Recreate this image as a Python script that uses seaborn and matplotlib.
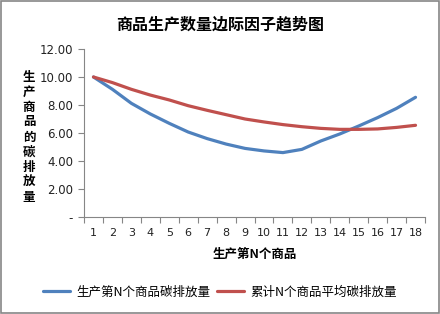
import matplotlib
matplotlib.use("Agg")
import matplotlib.pyplot as plt
import seaborn as sns
import pandas as pd
import numpy as np
from matplotlib.ticker import FixedLocator

n_items = list(range(1, 19))
marginal = [10.0, 9.12, 8.12, 7.36, 6.69, 6.07, 5.6, 5.21, 4.9, 4.72, 4.6, 4.83, 5.43, 5.93, 6.5, 7.1, 7.76, 8.55]
average = [10.0, 9.6, 9.12, 8.71, 8.36, 7.95, 7.62, 7.31, 7.0, 6.79, 6.6, 6.45, 6.33, 6.26, 6.26, 6.29, 6.4, 6.55]
series_names = ["生产第N个商品碳排放量", "累计N个商品平均碳排放量"]
y_ticks = [0, 2, 4, 6, 8, 10, 12]
y_tick_labels = ["-", "2.00", "4.00", "6.00", "8.00", "10.00", "12.00"]
title = "商品生产数量边际因子趋势图"
x_label = "生产第N个商品"
y_label = "生产商品的碳排放量"

sns.set_theme(style="white")
plt.rcParams['font.family'] = ['Noto Sans CJK SC', 'DejaVu Sans']

df = pd.DataFrame({
    "n": n_items * 2,
    "value": marginal + average,
    "series": [series_names[0]] * len(n_items) + [series_names[1]] * len(n_items),
})

fig = plt.figure(figsize=(4.4, 3.14), dpi=100)
ax = fig.add_axes([84 / 440, 1 - 217 / 314, (425 - 84) / 440, (217 - 49) / 314])

sns.lineplot(data=df, x="n", y="value", hue="series", palette=["#4F81BD", "#C0504D"],
             linewidth=2.3, ax=ax, legend=True)

ax.set_xlim(0.5, 18.5)
ax.set_ylim(0, 12)
ax.set_xticks(n_items)
ax.set_xticklabels([str(i) for i in n_items], fontsize=8, family=['DejaVu Sans'], color="#222222")
ax.xaxis.set_minor_locator(FixedLocator(np.arange(0.5, 19, 1)))
ax.tick_params(axis='x', which='major', length=0, pad=8)
ax.tick_params(axis='x', which='minor', length=4, width=0.8, color='#868686', bottom=True)
ax.set_yticks(y_ticks)
ax.set_yticklabels(y_tick_labels, fontsize=8.5, family=['DejaVu Sans'], color="#222222")
ax.tick_params(axis='y', which='major', length=4, width=0.8, color='#868686', left=True, pad=4)

for s in ["top", "right"]:
    ax.spines[s].set_visible(False)
for s in ["left", "bottom"]:
    ax.spines[s].set_color("#868686")
    ax.spines[s].set_linewidth(0.8)

ax.set_xlabel("")
ax.set_ylabel("")
fig.text(255 / 440, 1 - 254 / 314, x_label, ha="center", va="center", fontsize=9, fontweight="bold",
         color="black")
fig.text(29 / 440, 1 - 137 / 314, "\n".join(y_label), ha="center", va="center", fontsize=9,
         fontweight="bold", linespacing=1.2, color="black")
fig.text(220 / 440, 1 - 25 / 314, title, ha="center", va="center", fontsize=11.5, fontweight="bold",
         color="black")

handles, labels = ax.get_legend_handles_labels()
ax.get_legend().remove()
leg = fig.legend(handles, labels, loc="center", bbox_to_anchor=(220 / 440, 1 - 292 / 314), ncol=2,
                 frameon=False, fontsize=9, handlelength=2.2, columnspacing=0.5, handletextpad=0.5)
for t in leg.get_texts():
    t.set_color("black")

border = plt.Rectangle((0.002, 0.003), 0.995, 0.994, transform=fig.transFigure, fill=False,
                       edgecolor="#868686", linewidth=1.2)
fig.add_artist(border)

fig.savefig("out.png", dpi=100)
